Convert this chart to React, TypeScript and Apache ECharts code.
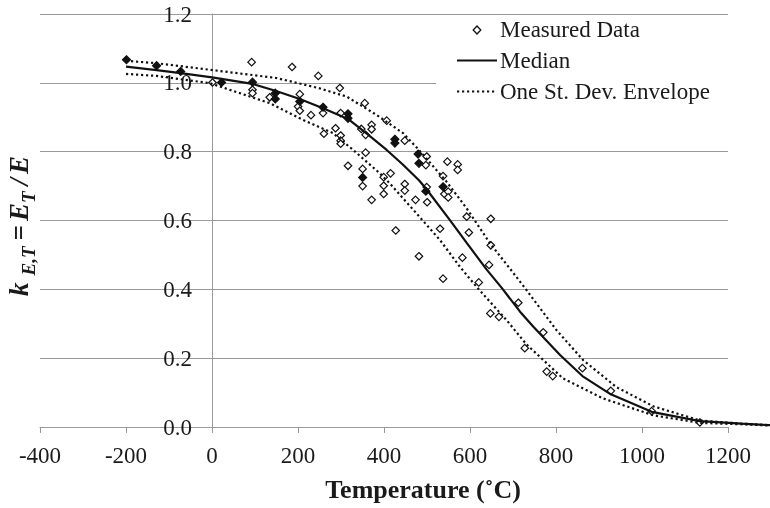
import React, { useEffect, useRef } from "react";
import * as echarts from "echarts";

// Measured data (isolated / hollow markers)
const openT = [1, 92, 94, 94, 134, 186, 247, 297, 355, 406, 204, 200, 204, 230, 258, 299, 287, 260, 299, 299, 299, 347, 371, 371, 357, 357, 316, 350, 350, 371, 399, 399, 399, 415, 448, 499, 497, 547, 571, 571, 537, 448, 448, 499, 540, 549, 549, 473, 500, 592, 648, 427, 530, 597, 648, 481, 582, 644, 537, 620, 712, 647, 667, 770, 727, 778, 792, 861, 927, 1022, 1134];
const openK = [1.001, 1.060, 0.980, 0.970, 0.958, 1.046, 1.020, 0.985, 0.941, 0.890, 0.967, 0.931, 0.919, 0.906, 0.912, 0.912, 0.868, 0.852, 0.847, 0.832, 0.823, 0.866, 0.878, 0.865, 0.849, 0.797, 0.759, 0.750, 0.700, 0.660, 0.726, 0.701, 0.677, 0.737, 0.832, 0.786, 0.761, 0.771, 0.763, 0.747, 0.729, 0.706, 0.687, 0.697, 0.677, 0.684, 0.667, 0.660, 0.653, 0.611, 0.605, 0.571, 0.576, 0.565, 0.528, 0.496, 0.492, 0.471, 0.431, 0.420, 0.361, 0.330, 0.320, 0.275, 0.229, 0.161, 0.148, 0.171, 0.105, 0.046, 0.013];
// Measured data where several markers overlap (drawn as solid blobs)
const denseT = [-199, -129, -73, 22, 94, 147, 147, 204, 258, 316, 316, 350, 425, 425, 479, 481, 497, 537];
const denseK = [1.067, 1.050, 1.033, 1.001, 1.002, 0.970, 0.953, 0.946, 0.929, 0.910, 0.897, 0.725, 0.836, 0.825, 0.793, 0.766, 0.685, 0.698];

// Median curve
const medianT = [-200, -129, -73, 0, 94, 147, 204, 258, 316, 359, 406, 444, 481, 499, 553, 592, 638, 673, 716, 747, 809, 861, 927, 1022, 1134, 1230, 1300];
const medianK = [1.047, 1.037, 1.028, 1.016, 0.997, 0.977, 0.953, 0.926, 0.895, 0.853, 0.805, 0.762, 0.717, 0.690, 0.601, 0.535, 0.458, 0.405, 0.335, 0.291, 0.209, 0.148, 0.095, 0.044, 0.017, 0.010, 0.005];

// One standard deviation envelope
const upperT = [-200, -129, -5, 150, 247, 313, 382, 444, 481, 545, 592, 646, 692, 731, 801, 863, 940, 1026, 1134, 1230, 1300];
const upperK = [1.064, 1.057, 1.038, 1.014, 0.985, 0.960, 0.907, 0.854, 0.805, 0.713, 0.635, 0.534, 0.461, 0.398, 0.281, 0.194, 0.116, 0.060, 0.019, 0.010, 0.005];
const lowerT = [-200, -129, -5, 134, 212, 281, 328, 390, 413, 475, 530, 576, 615, 685, 731, 762, 816, 909, 1026, 1134, 1230, 1300];
const lowerK = [1.026, 1.020, 0.999, 0.941, 0.892, 0.854, 0.805, 0.737, 0.708, 0.621, 0.543, 0.466, 0.407, 0.310, 0.240, 0.204, 0.141, 0.083, 0.034, 0.012, 0.008, 0.004];

const legendLabels = ["Measured Data", "Median", "One St. Dev. Envelope"];

const FONT = "Liberation Serif, Times New Roman, serif";
const INK = "#1a1a1a";
const GRID = "#9a9a9a";
const DOT = [2.2, 2.8];

const zip = (xs: number[], ys: number[]) => xs.map((x, i) => [x, ys[i]]);

export default function App() {
  const ref = useRef<HTMLDivElement>(null);
  useEffect(() => {
    if (!ref.current) return;
    document.body.style.margin = "0";
    const chart = echarts.init(ref.current, undefined, { renderer: "svg" });
    const measured = [
      ...zip(openT, openK).map((v) => ({ value: v })),
      ...zip(denseT, denseK).map((v) => ({
        value: v,
        symbolSize: 8,
        itemStyle: { color: "#111", borderColor: "#111" },
      })),
    ];
    const dotted = { color: "#111", width: 2.2, type: DOT as any };
    const legendText = (i: number, y: number) => ({
      type: "text",
      x: 500,
      y,
      z: 11,
      style: {
        text: legendLabels[i],
        fontSize: 23,
        fontFamily: FONT,
        fill: INK,
        align: "left",
        verticalAlign: "middle",
      },
    });
    const bold = { fontWeight: "bold", fontStyle: "italic", fontFamily: FONT, fill: INK };
    chart.setOption({
      animation: false,
      grid: [
        // visible frame: axes -400..1200
        { left: 40, right: 42, top: 14, bottom: 81, containLabel: false, outerBoundsMode: "none" },
        // drawing area for the data, which runs on to 1300 past the last gridline
        { left: 40, right: -1.25, top: 14, bottom: 81, containLabel: false, outerBoundsMode: "none" },
      ],
      xAxis: [
        {
          type: "value",
          gridIndex: 0,
          min: -400,
          max: 1200,
          interval: 200,
          axisLine: { onZero: true, lineStyle: { color: GRID, width: 1 } },
          axisTick: { show: true, length: 6, lineStyle: { color: GRID } },
          axisLabel: {
            margin: 17,
            fontSize: 23,
            fontFamily: FONT,
            color: INK,
            formatter: (v: number) => String(v),
          },
          splitLine: { show: false },
        },
        {
          type: "value",
          gridIndex: 1,
          min: -400,
          max: 1300,
          show: false,
        },
      ],
      yAxis: [
        {
          type: "value",
          gridIndex: 0,
          min: 0,
          max: 1.2,
          interval: 0.2,
          offset: -172,
          axisLine: { show: true, onZero: false, lineStyle: { color: GRID, width: 1 } },
          axisTick: { show: true, length: 7, lineStyle: { color: GRID } },
          axisLabel: {
            margin: 20,
            fontSize: 23,
            fontFamily: FONT,
            color: INK,
            formatter: (v: number) => v.toFixed(1),
          },
          splitLine: { show: true, lineStyle: { color: GRID, width: 1 } },
        },
        {
          type: "value",
          gridIndex: 1,
          min: 0,
          max: 1.2,
          show: false,
        },
      ],
      graphic: [
        {
          type: "text",
          x: 423,
          y: 489,
          style: {
            text: "Temperature (˚C)",
            fontSize: 26,
            fontWeight: "bold",
            fontFamily: FONT,
            fill: INK,
            align: "center",
            verticalAlign: "middle",
          },
        },
        {
          type: "text",
          x: 19,
          y: 226,
          rotation: Math.PI / 2,
          style: {
            text: "{k|k}{s|E,T}{q|=}{m|E}{s|T}{q|/}{m|E}",
            align: "center",
            verticalAlign: "middle",
            fill: INK,
            rich: {
              k: { ...bold, fontSize: 27, lineHeight: 28, verticalAlign: "middle", padding: [0, 7, 0, 0] },
              m: { ...bold, fontSize: 27, lineHeight: 28, verticalAlign: "middle" },
              q: { ...bold, fontSize: 27, lineHeight: 28, verticalAlign: "middle", padding: [0, 4, 0, 4] },
              s: { ...bold, fontSize: 19, lineHeight: 38, verticalAlign: "bottom", padding: [0, 2, 0, 0] },
            },
          },
        },
        // legend (drawn on a white panel that hides the grid behind it)
        {
          type: "rect",
          z: 10,
          shape: { x: 436, y: 15, width: 334, height: 93 },
          style: { fill: "#fff" },
        },
        {
          type: "polygon",
          z: 11,
          shape: { points: [[477, 26], [480.8, 30], [477, 34], [473.2, 30]] },
          style: { fill: "#fff", stroke: "#111", lineWidth: 1.3 },
        },
        {
          type: "line",
          z: 11,
          shape: { x1: 457, y1: 60.5, x2: 497, y2: 60.5 },
          style: { stroke: "#111", lineWidth: 2.2 },
        },
        {
          type: "line",
          z: 11,
          shape: { x1: 457, y1: 91.5, x2: 495, y2: 91.5 },
          style: { stroke: "#111", lineWidth: 2.2, lineDash: DOT },
        },
        legendText(0, 29),
        legendText(1, 60),
        legendText(2, 91),
      ],
      series: [
        {
          name: "Measured Data",
          type: "scatter",
          xAxisIndex: 1,
          yAxisIndex: 1,
          symbol: "diamond",
          symbolSize: 7.5,
          itemStyle: { color: "#fff", borderColor: "#111", borderWidth: 1.2, opacity: 1 },
          data: measured,
          z: 3,
        },
        {
          name: "Median",
          type: "line",
          xAxisIndex: 1,
          yAxisIndex: 1,
          symbol: "none",
          lineStyle: { color: "#111", width: 2.2, type: "solid" },
          itemStyle: { color: "#111" },
          data: zip(medianT, medianK),
          z: 4,
        },
        {
          name: "One St. Dev. Envelope",
          type: "line",
          xAxisIndex: 1,
          yAxisIndex: 1,
          symbol: "none",
          lineStyle: dotted,
          itemStyle: { color: "#111" },
          data: zip(upperT, upperK),
          z: 4,
        },
        {
          name: "One St. Dev. Envelope",
          type: "line",
          xAxisIndex: 1,
          yAxisIndex: 1,
          symbol: "none",
          lineStyle: dotted,
          itemStyle: { color: "#111" },
          data: zip(lowerT, lowerK),
          z: 4,
        },
      ],
    });
    return () => chart.dispose();
  }, []);
  return (
    <div
      ref={ref}
      style={{ position: "fixed", left: 0, top: 0, width: 770, height: 508 }}
    />
  );
}
